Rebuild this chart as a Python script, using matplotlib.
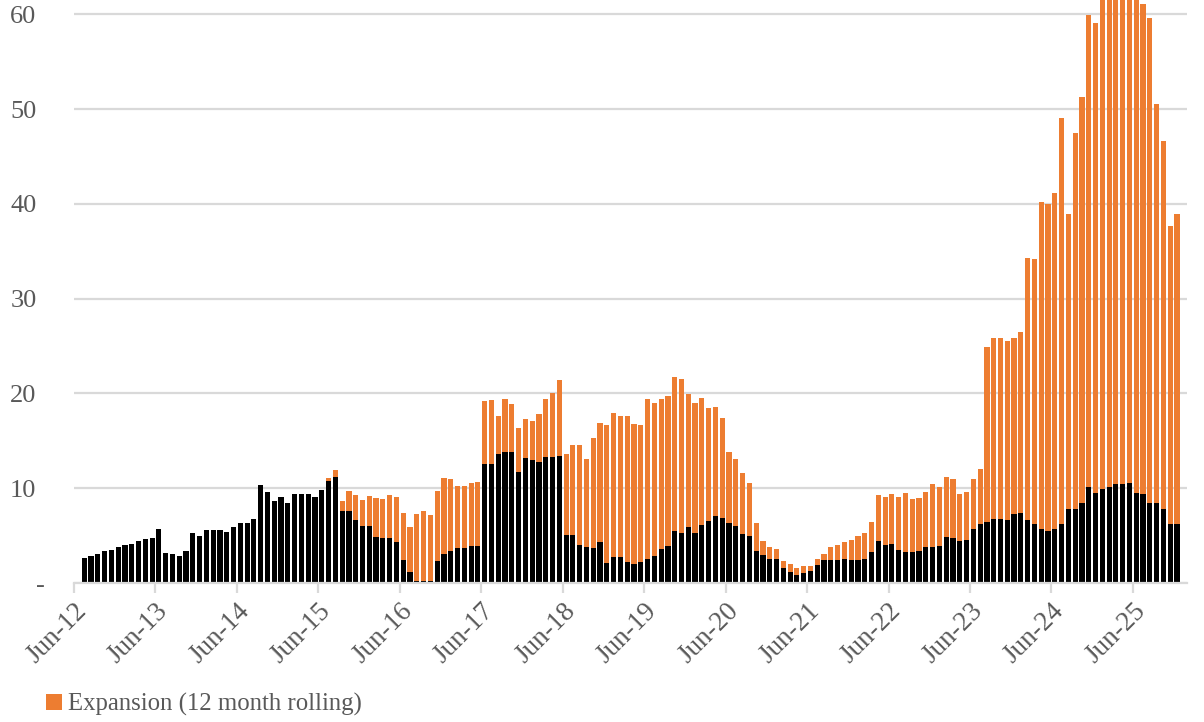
import matplotlib.pyplot as plt
import numpy as np
from matplotlib.patches import Patch
from matplotlib.transforms import ScaledTranslation

# monthly data, Jul-12 .. Dec-25 (axis runs Jun-12 .. Jan-26)
tick_labels = ["Jun-12", "Jun-13", "Jun-14", "Jun-15", "Jun-16", "Jun-17", "Jun-18",
               "Jun-19", "Jun-20", "Jun-21", "Jun-22", "Jun-23", "Jun-24", "Jun-25"]

maintenance = [
    2.6, 2.9, 3.05, 3.4, 3.5, 3.8, 4.0, 4.15, 4.4, 4.6, 4.75, 5.65,
    3.15, 3.05, 2.9, 3.4, 5.3, 5.0, 5.55, 5.55, 5.6, 5.4, 5.9, 6.3,
    6.3, 6.7, 10.35, 9.65, 8.6, 9.1, 8.4, 9.35, 9.35, 9.4, 9.1, 9.8,
    10.75, 11.15, 7.55, 7.55, 6.6, 6.05, 6.05, 4.9, 4.7, 4.7, 4.35, 2.4,
    1.2, 0.25, 0.25, 0.18, 2.3, 3.1, 3.35, 3.65, 3.65, 3.9, 3.95, 12.6,
    12.55, 13.6, 13.85, 13.85, 11.75, 13.2, 13.0, 12.75, 13.3, 13.25, 13.4, 5.05,
    5.05, 4.05, 3.85, 3.7, 4.3, 2.1, 2.7, 2.7, 2.2, 2.0, 2.2, 2.55,
    2.85, 3.55, 3.9, 5.5, 5.3, 5.9, 5.25, 6.1, 6.55, 7.1, 6.85, 6.3,
    6.0, 5.15, 4.95, 3.35, 3.0, 2.55, 2.55, 1.6, 1.2, 0.85, 1.1, 1.3,
    1.95, 2.4, 2.4, 2.4, 2.5, 2.4, 2.4, 2.5, 3.3, 4.4, 4.0, 4.1,
    3.5, 3.25, 3.25, 3.35, 3.75, 3.75, 3.9, 4.85, 4.75, 4.4, 4.5, 5.75,
    6.25, 6.4, 6.8, 6.7, 6.6, 7.25, 7.35, 6.6, 6.25, 5.65, 5.5, 5.65,
    6.25, 7.85, 7.8, 8.45, 10.1, 9.5, 9.95, 10.15, 10.4, 10.4, 10.5, 9.45,
    9.35, 8.4, 8.4, 7.85, 6.25, 6.25,
]

expansion = [
    0, 0, 0, 0, 0, 0, 0, 0, 0, 0, 0, 0,
    0, 0, 0, 0, 0, 0, 0, 0, 0, 0, 0, 0,
    0, 0, 0, 0, 0, 0, 0, 0, 0, 0, 0, 0,
    0.3, 0.75, 1.05, 2.13, 2.65, 2.7, 3.15, 4.1, 4.2, 4.6, 4.7, 5.0,
    4.7, 7.05, 7.37, 7.02, 7.4, 8.03, 7.57, 6.63, 6.56, 6.66, 6.72, 6.65,
    6.75, 4.0, 5.55, 5.0, 4.6, 4.05, 4.1, 5.1, 6.07, 6.8, 7.97, 8.58,
    9.55, 10.53, 9.18, 11.55, 12.53, 14.55, 15.19, 14.91, 15.46, 14.8, 14.42, 16.85,
    16.13, 15.82, 15.85, 16.19, 16.25, 14.06, 13.76, 13.37, 11.9, 11.46, 10.58, 7.5,
    7.13, 6.5, 5.61, 2.95, 1.4, 1.29, 1.01, 0.69, 0.84, 0.75, 0.65, 0.53,
    0.59, 0.7, 1.4, 1.61, 1.87, 2.11, 2.56, 2.78, 3.14, 4.9, 5.12, 5.3,
    5.62, 6.26, 5.62, 5.63, 5.9, 6.71, 6.28, 6.38, 6.24, 4.97, 5.15, 5.2,
    5.75, 18.54, 19.05, 19.15, 18.98, 18.6, 19.14, 27.71, 27.98, 34.58, 34.49, 35.53,
    42.76, 31.11, 39.66, 42.82, 49.79, 49.55, 53.05, 54.35, 55.1, 54.6, 53.5, 53.05,
    51.75, 51.17, 42.1, 38.75, 31.4, 32.67,
]

orange = "#ED7D31"
grey_txt = "#595959"
grid_c = "#D9D9D9"

plt.rcParams["font.family"] = ["Liberation Serif", "DejaVu Serif"]

fig = plt.figure(figsize=(12.04, 7.22), dpi=100)
ax = fig.add_axes([0.0615, 0.1925, 0.9245, 0.8075])

x = np.arange(1, len(maintenance) + 1)
ax.bar(x, maintenance, width=0.76, color="black", zorder=3)
ax.bar(x, expansion, width=0.76, bottom=maintenance, color=orange, zorder=3)

ax.set_xlim(-0.5, 163.5)
ax.set_ylim(0, 61.5)

# y axis
ax.set_yticks([0, 10, 20, 30, 40, 50, 60])
ax.set_yticklabels(["-", "10", "20", "30", "40", "50", "60"])
ax.grid(axis="y", color=grid_c, linewidth=1.6, zorder=0)
ax.tick_params(axis="y", length=0, pad=27, labelsize=19, labelcolor=grey_txt)
dash = ax.get_yticklabels()[0]
dash.set_transform(dash.get_transform() + ScaledTranslation(0.08, 0, fig.dpi_scale_trans))

# x axis, ticks at each June boundary
ax.set_xticks(np.arange(len(tick_labels)) * 12 - 0.5)
ax.set_xticklabels(tick_labels, rotation=45, ha="right", rotation_mode="anchor")
ax.tick_params(axis="x", length=7, width=1.6, color=grid_c, direction="out",
               labelsize=19.5, labelcolor=grey_txt, pad=4)

for s in ["top", "right", "left"]:
    ax.spines[s].set_visible(False)
ax.spines["bottom"].set_color(grid_c)
ax.spines["bottom"].set_linewidth(1.6)
ax.spines["bottom"].set_zorder(4)

handles = [Patch(facecolor=orange, label="Expansion (12 month rolling)")]
fig.legend(handles=handles, loc="center left", bbox_to_anchor=(0.03, 0.024),
           frameon=False, fontsize=17.8, handlelength=0.65, handleheight=0.65,
           handletextpad=0.25, labelcolor=grey_txt, borderaxespad=0)

fig.savefig("out.png", dpi=100)
